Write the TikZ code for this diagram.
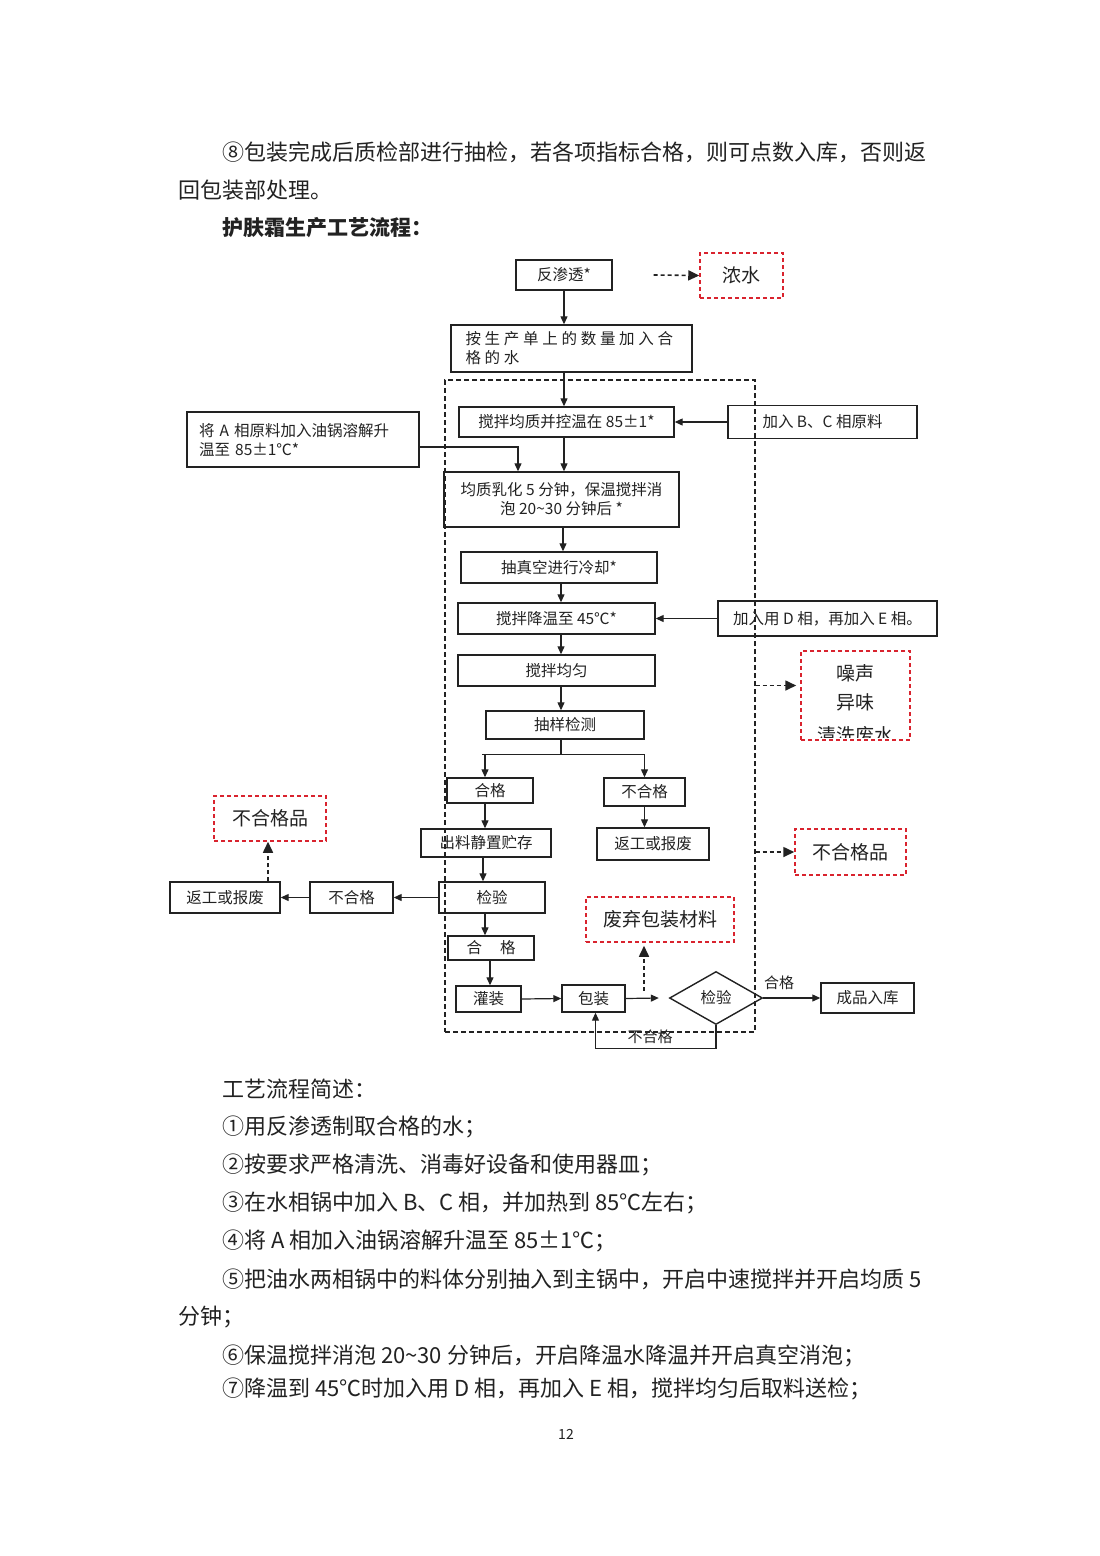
\documentclass[tikz,border=0pt]{standalone}
\usepackage{fontspec}
\setmainfont{Noto Sans CJK SC}
\newfontfamily\widecjk[LetterSpace=24]{Noto Sans CJK SC}
\usetikzlibrary{arrows.meta,shapes.geometric}
\definecolor{rd}{HTML}{D9232E}
\definecolor{ink}{HTML}{222222}
\begin{document}
\begin{tikzpicture}[x=1pt,y=-1pt,
  box/.style={draw=ink, line width=1.4pt, inner sep=0pt, font=\fontsize{15.5}{19}\selectfont, align=center, text=ink},
  rbox/.style={draw=rd, dash pattern=on 4pt off 3pt, line width=1.5pt, inner sep=0pt, font=\fontsize{19}{24}\selectfont, align=center, text=ink},
  zonebox/.style={draw=ink, dash pattern=on 5pt off 3pt, line width=1.4pt, inner sep=0pt},
  arr/.style={-{Triangle[length=8pt,width=7pt]}, line width=1.2pt, draw=ink},
  darr/.style={-{Triangle[length=11pt,width=10pt]}, dash pattern=on 4pt off 3pt, line width=1.6pt, draw=ink},
  body/.style={anchor=west, inner sep=0pt, font=\fontsize{22}{26}\selectfont, text=ink},
  lbl/.style={inner sep=0pt, font=\fontsize{15}{18}\selectfont, text=ink}
]
\fill[white] (0,0) rectangle (1100,1556);
\path[use as bounding box] (0,0) rectangle (1100,1556);

% body text
\node[body] (t1) at (222,152) {⑧包装完成后质检部进行抽检，若各项指标合格，则可点数入库，否则返};
\node[body] (t2) at (178,190) {回包装部处理。};
\node[body, font=\fontsize{21}{26}\selectfont\bfseries] (t3) at (222,228) {护肤霜生产工艺流程：};
\node[body] (t4) at (222,1089) {工艺流程简述：};
\node[body] (t5) at (222,1127) {①用反渗透制取合格的水；};
\node[body] (t6) at (222,1165) {②按要求严格清洗、消毒好设备和使用器皿；};
\node[body] (t7) at (222,1203) {③在水相锅中加入 B、C 相，并加热到 85℃左右；};
\node[body] (t8) at (222,1241) {④将 A 相加入油锅溶解升温至 85±1℃；};
\node[body] (t9) at (222,1279) {⑤把油水两相锅中的料体分别抽入到主锅中，开启中速搅拌并开启均质 5};
\node[body] (t10) at (178,1317) {分钟；};
\node[body] (t11) at (222,1356) {⑥保温搅拌消泡 20\textasciitilde30 分钟后，开启降温水降温并开启真空消泡；};
\node[body] (t12) at (222,1389) {⑦降温到 45℃时加入用 D 相，再加入 E 相，搅拌均匀后取料送检；};
\node[inner sep=0pt, font=\fontsize{14}{16}\selectfont, text=ink] (pg) at (566,1434) {12};

% zone
\node[zonebox, minimum width=310, minimum height=652] (zone) at (600,706) {};

% boxes
\node[box, minimum width=96, minimum height=30] (fs) at (564,275) {反渗透*};
\node[rbox, minimum width=83, minimum height=45] (ns) at (741.5,275.5) {浓水};
\node[box, minimum width=241, minimum height=47, text width=212, align=left] (water) at (571.5,348.5) {{\widecjk 按生产单上的数量加入合}\\{\widecjk 格的水}};
\node[box, minimum width=215, minimum height=30] (stir) at (566.5,422) {搅拌均质并控温在 85±1*};
\node[box, minimum width=189, minimum height=33] (bc) at (822.5,422) {加入 B、C 相原料};
\node[box, minimum width=232, minimum height=55, text width=208, align=left] (aph) at (303,439.5) {将 A 相原料加入油锅溶解升\\温至 85±1℃*};
\node[box, minimum width=235, minimum height=55] (emul) at (561.5,499.5) {均质乳化 5 分钟，保温搅拌消\\泡 20\textasciitilde30 分钟后 *};
\node[box, minimum width=196, minimum height=31] (vac) at (559,567.5) {抽真空进行冷却*};
\node[box, minimum width=197, minimum height=31] (cool) at (556.5,618.5) {搅拌降温至 45℃*};
\node[box, minimum width=219, minimum height=35] (de) at (827.5,618.5) {加入用 D 相，再加入 E 相。};
\node[box, minimum width=197, minimum height=31] (mix) at (556.5,670.5) {搅拌均匀};
\node[box, minimum width=158, minimum height=28] (sample) at (565,725) {抽样检测};
\node[box, minimum width=86, minimum height=25] (ok1) at (490,790.5) {合格};
\node[box, minimum width=81, minimum height=28] (ng1) at (644.5,792) {不合格};
\node[box, minimum width=112, minimum height=32] (rw2) at (653,844) {返工或报废};
\node[box, minimum width=130, minimum height=28] (store) at (486,843) {出料静置贮存};
\node[box, minimum width=106, minimum height=31] (insp) at (492,897.5) {检验};
\node[box, minimum width=83, minimum height=31] (ng2) at (351.5,897.5) {不合格};
\node[box, minimum width=110, minimum height=31] (rw1) at (225,897.5) {返工或报废};
\node[rbox, minimum width=112, minimum height=45] (rej1) at (270,818.5) {不合格品};
\node[box, minimum width=86, minimum height=24] (ok2) at (491,948) {合\hspace{18pt}格};
\node[box, minimum width=65, minimum height=26] (fill) at (488.5,999) {灌装};
\node[box, minimum width=63, minimum height=27] (pack) at (593.5,998.5) {包装};
\node[box, diamond, aspect=1.75, minimum width=93, minimum height=53] (diam) at (716,998) {\raisebox{-5pt}{检验}};
\node[box, minimum width=93, minimum height=30] (prod) at (867.5,998) {成品入库};
\node[rbox, minimum width=148, minimum height=45] (waste) at (660,919.5) {废弃包装材料};
\node[rbox, minimum width=109, minimum height=89] (noise) at (855.5,695.5) {};
\node[inner sep=0pt, font=\fontsize{19}{24}\selectfont, text=ink] (n1) at (855.5,673) {噪声};
\node[inner sep=0pt, font=\fontsize{19}{24}\selectfont, text=ink] (n2) at (855.5,702) {异味};
\begin{scope}
\clip (801,651) rectangle (910,737);
\node[inner sep=0pt, font=\fontsize{19}{24}\selectfont, text=ink] (n3) at (855.5,735) {清洗废水};
\end{scope}
\node[rbox, minimum width=111, minimum height=46] (rej2) at (850.5,852) {不合格品};

% labels
\node[lbl] (lok) at (779,983) {合格};
\node[lbl] (lng) at (650,1037) {不合格};

% connectors
\draw[darr] ([xshift=41]fs.east) -- (ns.west);
\draw[arr] (fs.south) -- (fs.south |- water.north);
\draw[arr] (fs.south |- water.south) -- (fs.south |- stir.north);
\draw[arr] (bc.west) -- (stir.east);
\draw[arr] ([yshift=-7.5]aph.east) -| ([xshift=-43.5]emul.north);
\draw[arr] (fs.south |- stir.south) -- (fs.south |- emul.north);
\draw[arr] ([xshift=1.5]emul.south) -- ([xshift=1.5]emul.south |- vac.north);
\draw[arr] ([xshift=2]vac.south) -- ([xshift=2]vac.south |- cool.north);
\draw[arr] (de.west) -- (cool.east);
\draw[arr] ([xshift=4.5]cool.south) -- ([xshift=4.5]cool.south |- mix.north);
\draw[arr] ([xshift=4.5]mix.south) -- ([xshift=4.5]mix.south |- sample.north);
\draw[line width=1.2pt, draw=ink] ([xshift=-4]sample.south) -- ++(0,15) coordinate (br);
\draw[line width=1.2pt, draw=ink] ([xshift=-8]br -| ok1.north) -- (br -| ng1.north);
\draw[arr] ([xshift=-5]br -| ok1.north) -- ([xshift=-5]ok1.north);
\draw[arr] (br -| ng1.north) -- (ng1.north);
\draw[arr] ([xshift=-5]ok1.south) -- ([xshift=-5]ok1.south |- store.north);
\draw[arr] (ng1.south) -- (ng1.south |- rw2.north);
\draw[arr] ([xshift=-3]store.south) -- ([xshift=-3]store.south |- insp.north);
\draw[arr] (insp.west) -- (ng2.east);
\draw[arr] (ng2.west) -- (rw1.east);
\draw[darr] ([xshift=43]rw1.north) -- ([xshift=43]rw1.north |- rej1.south);
\draw[arr] ([xshift=-7]insp.south) -- ([xshift=-7]insp.south |- ok2.north);
\draw[arr] ([xshift=-1]ok2.south) -- ([xshift=-1]ok2.south |- fill.north);
\draw[arr] (fill.east) -- (pack.west);
\draw[arr] (pack.east) -- ([xshift=-10]diam.west);
\coordinate (wp) at ([xshift=-16]waste.south |- pack.east);
\draw[darr] ([yshift=8]wp) -- ([xshift=-16,yshift=-3]waste.south);
\draw[arr] (diam.east) -- (prod.west);
\draw[arr] (diam.south) -- ++(0,23) -| ([xshift=2]pack.south);
\draw[darr] ([yshift=10]zone.east |- noise.west) -- ([xshift=-4,yshift=10]noise.west);
\draw[darr] (zone.east |- rej2.west) -- (rej2.west);
\end{tikzpicture}
\end{document}
